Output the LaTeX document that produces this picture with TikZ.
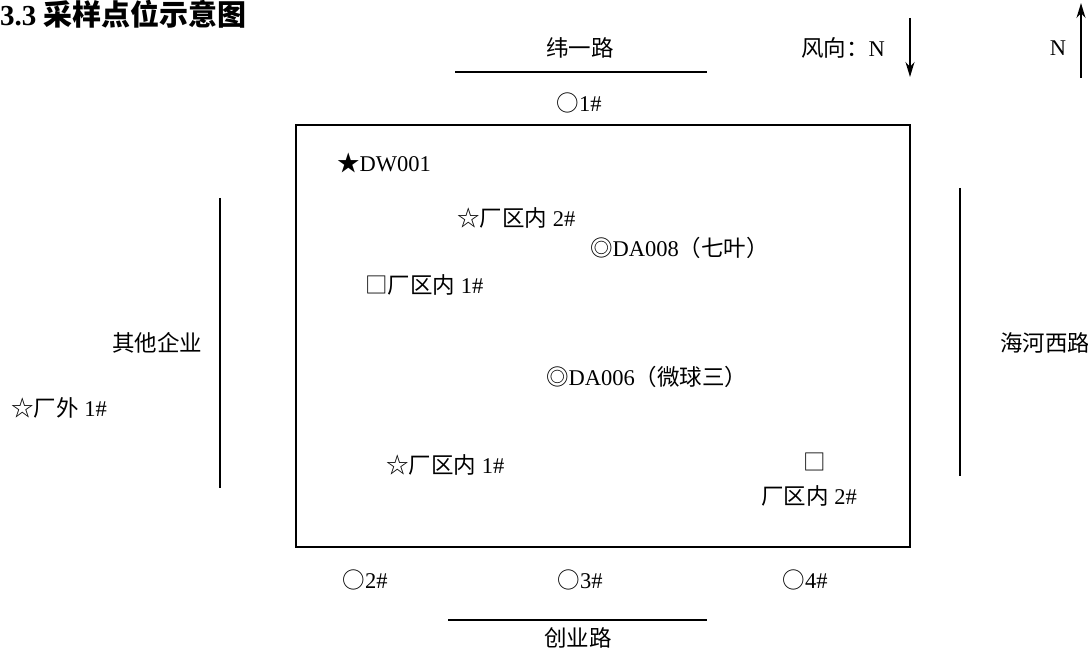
\documentclass[tikz,border=0pt]{standalone}
\usepackage{fontspec}
\setmainfont{Liberation Serif}
\newfontfamily\cjk{Noto Sans CJK SC}
\newcommand{\zh}[1]{{\cjk #1}}
\usetikzlibrary{positioning}
\usetikzlibrary{arrows.meta}

\begin{document}
\begin{tikzpicture}[x=1pt,y=-1pt,
	point node/.style={anchor=west,inner sep=0pt,font=\fontsize{22.5}{26}\selectfont},
	road node/.style={inner sep=0pt,font=\fontsize{22.5}{26}\selectfont},
	road/.style={line width=1.6pt},
	wind/.style={-{Stealth[length=15pt,width=9pt]},line width=1.4pt}]
	\useasboundingbox (0,0) rectangle (1088,650);
	
	\node[anchor=west,inner sep=0pt,font=\fontsize{29}{32}\selectfont\bfseries] (title) at (0,14) {3.3 \zh{采样点位示意图}};
	
	% plant boundary
	\node[draw,line width=1.6pt,minimum width=614pt,minimum height=422pt,inner sep=0pt] (plant) at (603,336) {};
	
	% roads
	\node[road node] (weiyi) at (580,48) {\zh{纬一路}};
	\node[road node] (chuangye) at (578,638) {\zh{创业路}};
	\node[road node] (qita) at (157,343) {\zh{其他企业}};
	\node[road node] (haihe) at (1045,343) {\zh{海河西路}};
	\coordinate (weiyi a) at (455,72);
	\coordinate (weiyi b) at (707,72);
	\coordinate (chuangye a) at (448,620);
	\coordinate (chuangye b) at (707,620);
	\coordinate (qita a) at (220,198);
	\coordinate (qita b) at (220,488);
	\coordinate (haihe a) at (960,188);
	\coordinate (haihe b) at (960,476);
	\draw[road] (weiyi a) -- (weiyi b);
	\draw[road] (chuangye a) -- (chuangye b);
	\draw[road] (qita a) -- (qita b);
	\draw[road] (haihe a) -- (haihe b);
	
	% wind and north
	\node[road node] (wind label) at (843,48) {\zh{风向：}N};
	\node[road node] (north label) at (1058,48) {N};
	\coordinate (wind a) at (910,18);
	\coordinate (wind b) at (910,77);
	\coordinate (north a) at (1081,78);
	\coordinate (north b) at (1081,3);
	\draw[wind] (wind a) -- (wind b);
	\draw[wind] (north a) -- (north b);
	
	% sampling points
	\node[point node] (dw001) at (337,163) {\zh{★}DW001};
	\node[point node] (in2 star) at (457,218) {\zh{☆厂区内} 2\#};
	\node[point node] (da008) at (590,248) {\zh{◎}DA008\zh{（七叶）}};
	\node[point node] (in1 box) at (365,285) {\zh{□厂区内} 1\#};
	\node[point node] (da006) at (546,377) {\zh{◎}DA006\zh{（微球三）}};
	\node[point node] (out1) at (11,408) {\zh{☆厂外} 1\#};
	\node[point node] (in1 star) at (386,465) {\zh{☆厂区内} 1\#};
	\node[road node] (in2 box) at (815,462) {\zh{□}};
	\node[point node] (in2 box label) at (761,496) {\zh{厂区内} 2\#};
	
	% noise points
	\node[road node] (n1) at (579,103) {\zh{○}1\#};
	\node[road node] (n2) at (365,580) {\zh{○}2\#};
	\node[road node] (n3) at (580,580) {\zh{○}3\#};
	\node[road node] (n4) at (805,580) {\zh{○}4\#};
\end{tikzpicture}
\end{document}
